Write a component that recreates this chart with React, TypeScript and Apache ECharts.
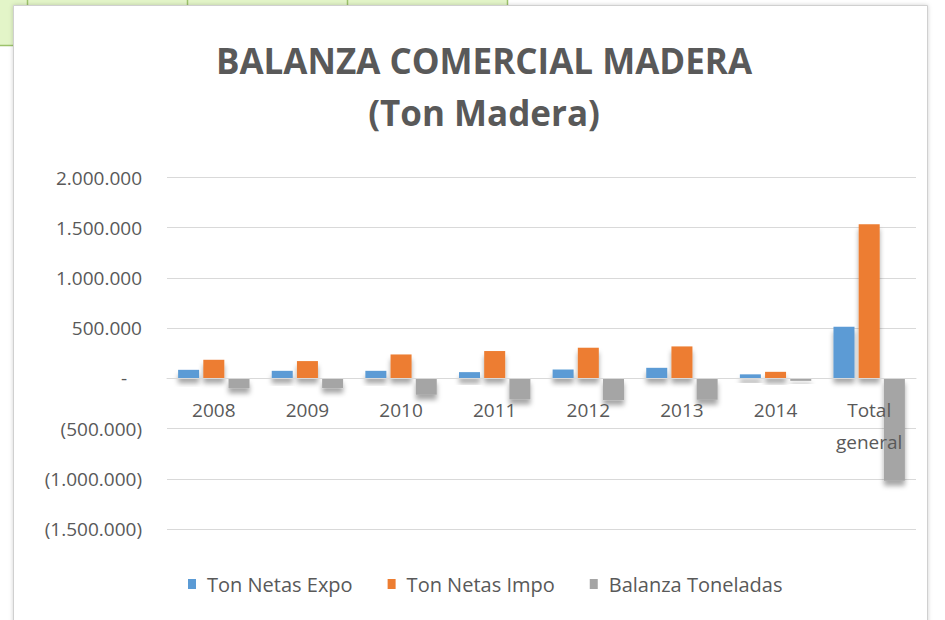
import React, { useEffect, useRef } from 'react';
import * as echarts from 'echarts';

const categories = ['2008', '2009', '2010', '2011', '2012', '2013', '2014', 'Total\ngeneral'];
const seriesNames = ['Ton Netas Expo', 'Ton Netas Impo', 'Balanza Toneladas'];
const expo = [85000, 75000, 75000, 62000, 88000, 105000, 40000, 515000];
const impo = [185000, 172000, 238000, 272000, 305000, 318000, 65000, 1535000];
const balanza = [-100000, -97000, -163000, -210000, -217000, -213000, -25000, -1020000];
const yMin = -1500000;
const yMax = 2000000;
const yInterval = 500000;
const titleLines = ['BALANZA COMERCIAL MADERA', '(Ton Madera)'];
const colors = ['#5b9bd5', '#ed7d31', '#a5a5a5'];

const FONT = '"Open Sans", "Noto Sans", sans-serif';
const TXT = '#595959';

const GRID_TOP = 177.5;
const GRID_BOTTOM = 91;
const CHART_H = 620;

function fmt(v: number): string {
  if (v === 0) return '{z|-}';
  const s = Math.abs(v).toString().replace(/\B(?=(\d{3})+(?!\d))/g, '.');
  return v < 0 ? `(${s})` : s;
}

export default function App() {
  const ref = useRef<HTMLDivElement>(null);
  useEffect(() => {
    if (!ref.current) return;
    const chart = echarts.init(ref.current, undefined, { renderer: 'svg' });
    const shadow = {
      shadowBlur: 5,
      shadowOffsetX: 0,
      shadowOffsetY: 5,
      shadowColor: 'rgba(0,0,0,0.35)',
    };
    const dataSets = [expo, impo, balanza];
    // place the category axis on the value 0 of the y scale
    const plotH = CHART_H - GRID_TOP - GRID_BOTTOM;
    const zeroFromBottom = plotH * (0 - yMin) / (yMax - yMin);
    chart.setOption({
      animation: false,
      backgroundColor: '#ffffff',
      textStyle: { fontFamily: FONT },
      graphic: [
        { type: 'rect', z: -20, shape: { x: 0, y: 0, width: 507, height: 45 }, style: { fill: '#e3f5c8' } },
        { type: 'line', z: -19, shape: { x1: 27.5, y1: 0, x2: 27.5, y2: 45 }, style: { stroke: '#9dc36b', lineWidth: 1.5 } },
        { type: 'line', z: -19, shape: { x1: 187.5, y1: 0, x2: 187.5, y2: 45 }, style: { stroke: '#9dc36b', lineWidth: 1.5 } },
        { type: 'line', z: -19, shape: { x1: 347.5, y1: 0, x2: 347.5, y2: 45 }, style: { stroke: '#9dc36b', lineWidth: 1.5 } },
        { type: 'line', z: -19, shape: { x1: 507.5, y1: 0, x2: 507.5, y2: 45 }, style: { stroke: '#9dc36b', lineWidth: 1.5 } },
        { type: 'line', z: -19, shape: { x1: 0, y1: 45.5, x2: 507, y2: 45.5 }, style: { stroke: '#9dc36b', lineWidth: 1.5 } },
        {
          type: 'rect', z: -18,
          shape: { x: 13.5, y: 5.5, width: 914, height: 640 },
          style: { fill: '#ffffff', stroke: '#d0d0d0', lineWidth: 1, shadowBlur: 4, shadowColor: 'rgba(0,0,0,0.18)' },
        },
        {
          type: 'text', z: 10, x: 484, y: 60,
          style: { text: titleLines[0], fontSize: 35, fontWeight: 'bold', fontFamily: FONT, fill: TXT, align: 'center', verticalAlign: 'middle' },
        },
        {
          type: 'text', z: 10, x: 484, y: 112,
          style: { text: titleLines[1], fontSize: 35, fontWeight: 'bold', fontFamily: FONT, fill: TXT, align: 'center', verticalAlign: 'middle' },
        },
      ],
      grid: { left: 167, right: 29, top: GRID_TOP, bottom: GRID_BOTTOM, containLabel: false },
      legend: {
        data: seriesNames,
        left: 188,
        top: 574,
        padding: 0,
        icon: 'rect',
        itemWidth: 8,
        itemHeight: 10,
        itemGap: 35,
        textStyle: { fontSize: 20, color: TXT, fontFamily: FONT, padding: [0, 0, 0, 6] },
      },
      xAxis: {
        type: 'category',
        data: categories,
        position: 'bottom',
        offset: -zeroFromBottom,
        z: 5,
        axisLine: { onZero: false, lineStyle: { color: '#d9d9d9', width: 1 } },
        axisTick: { show: false },
        axisLabel: { interval: 0, fontSize: 19, color: TXT, fontFamily: FONT, margin: 16, lineHeight: 32 },
      },
      yAxis: {
        type: 'value',
        min: yMin,
        max: yMax,
        interval: yInterval,
        axisLine: { show: false },
        axisTick: { show: false },
        splitLine: { lineStyle: { color: '#d9d9d9', width: 1 } },
        axisLabel: {
          fontSize: 19,
          color: TXT,
          fontFamily: FONT,
          margin: 25,
          formatter: (v: number) => fmt(v),
          rich: { z: { fontSize: 19, color: TXT, fontFamily: FONT, padding: [0, 15, 0, 0] } },
        },
      },
      series: seriesNames.map((name, i) => ({
        name,
        type: 'bar',
        data: dataSets[i],
        barWidth: 21,
        barGap: '20%',
        itemStyle: { color: colors[i], ...shadow },
      })),
    });
    return () => chart.dispose();
  }, []);
  return <div ref={ref} style={{ position: 'absolute', left: 0, top: 0, width: 945, height: 620 }} />;
}
